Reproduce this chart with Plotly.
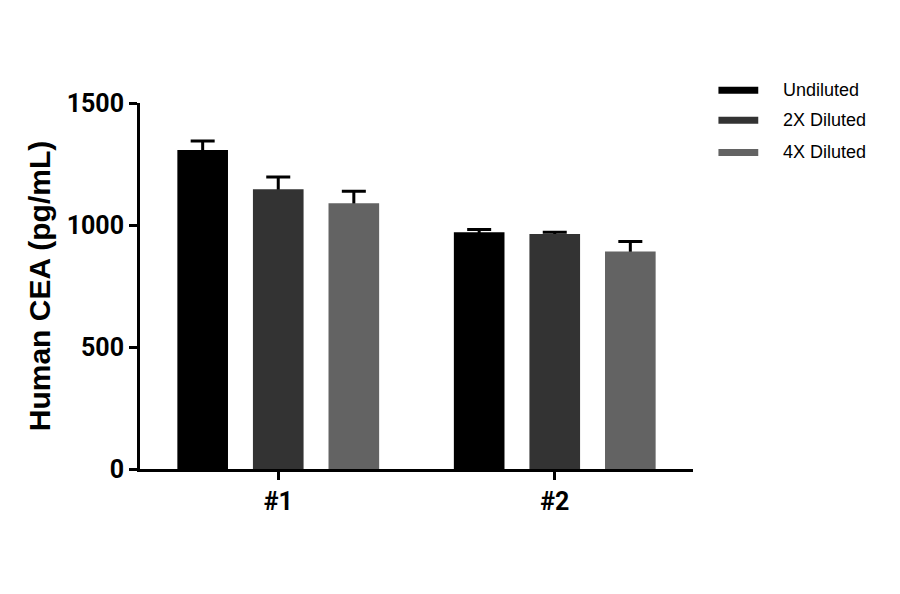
import plotly.graph_objects as go

# Sample groups and dilution series
samples = ["#1", "#2"]
series = ["Undiluted", "2X Diluted", "4X Diluted"]
colors = ["#000000", "#333333", "#636363"]

means = [
    [1307, 970],   # Undiluted
    [1147, 963],   # 2X Diluted
    [1089, 891],   # 4X Diluted
]
sd = [
    [37, 12],
    [50, 7],
    [49, 41],
]

y_ticks = [0, 500, 1000, 1500]

fig = go.Figure()

# error bars first (invisible bars), so the real bars cover the lower half
for i, (m, e) in enumerate(zip(means, sd)):
    fig.add_trace(go.Bar(
        x=samples, y=m, offsetgroup=str(i), showlegend=False, hoverinfo="skip",
        marker=dict(color="rgba(0,0,0,0)", line=dict(width=0)),
        error_y=dict(type="data", array=e, color="black", thickness=3, width=12),
    ))
for i, (name, col, m) in enumerate(zip(series, colors, means)):
    fig.add_trace(go.Bar(
        x=samples, y=m, name=name, offsetgroup=str(i), showlegend=False,
        marker=dict(color=col, line=dict(width=0)),
    ))

# legend drawn by hand: short thick line + label
leg_x0, leg_x1, leg_tx = 1.046, 1.118, 1.16
leg_y = [1.035, 0.953, 0.865]
for name, col, yy in zip(series, colors, leg_y):
    fig.add_shape(type="line", xref="paper", yref="paper",
                  x0=leg_x0, x1=leg_x1, y0=yy, y1=yy,
                  line=dict(color=col, width=7))
    fig.add_annotation(xref="paper", yref="paper", x=leg_tx, y=yy,
                       text=name, showarrow=False, xanchor="left", yanchor="middle",
                       font=dict(size=18, family="Liberation Sans", color="black"))

fig.update_layout(
    width=900, height=594,
    plot_bgcolor="white", paper_bgcolor="white",
    margin=dict(l=132, r=215, t=95, b=133),
    barmode="group", bargap=0.18, bargroupgap=0.33,
    font=dict(family="Liberation Sans", color="black"),
    showlegend=False,
)

fig.update_xaxes(
    range=[-0.5, 1.5], showline=True, linecolor="black", linewidth=3,
    ticks="outside", ticklen=8, tickwidth=3, tickcolor="black",
    tickfont=dict(size=25, family="Roboto", weight="bold"),
    showgrid=False, zeroline=False, automargin=False,
)
fig.update_yaxes(
    range=[0, 1500], tickvals=y_ticks, showline=True, linecolor="black", linewidth=3,
    ticks="outside", ticklen=8, tickwidth=3, tickcolor="black",
    tickfont=dict(size=25, family="Roboto", weight="bold"),
    title=dict(text="Human CEA (pg/mL)", standoff=8,
               font=dict(size=30, family="Liberation Sans", weight="bold")),
    showgrid=False, zeroline=False, automargin=False,
)

fig.write_html("out.html")
